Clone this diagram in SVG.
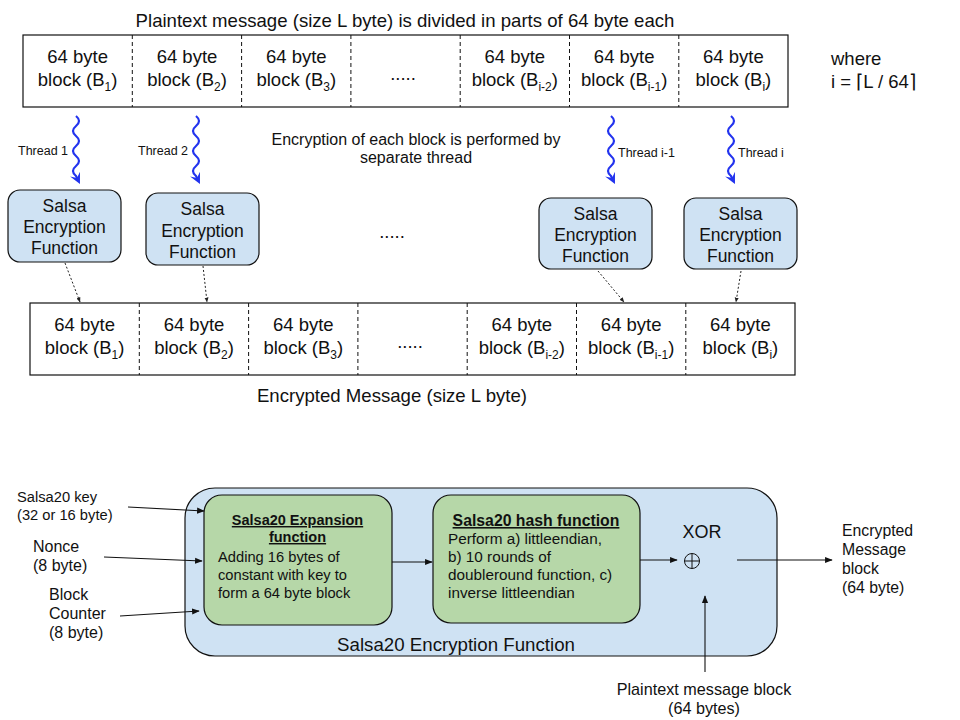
<svg xmlns="http://www.w3.org/2000/svg" width="960" height="720" viewBox="0 0 960 720">
<defs>
<style>
text{font-family:"Liberation Sans",Arial,sans-serif;fill:#111}
.c{text-anchor:middle}
.blk{font-size:18.5px}
.tbox{fill:#fff;stroke:#111;stroke-width:1.2}
.div{stroke:#111;stroke-width:1;stroke-dasharray:4,3}
.salsa{fill:#cfe2f3;stroke:#111;stroke-width:1.2}
.green{fill:#b6d7a8;stroke:#111;stroke-width:1.2}
.thr{fill:none;stroke:#2233ee;stroke-width:2.2}
.dot{fill:none;stroke:#222;stroke-width:1;stroke-dasharray:2,2}
.ln{fill:none;stroke:#111;stroke-width:1.1}
.sf{font-size:17.5px}
</style>
<marker id="ah" viewBox="0 0 10 10" refX="9" refY="5" markerWidth="7" markerHeight="7" orient="auto"><path d="M0,1 L10,5 L0,9 Z" fill="#111"/></marker>
<marker id="ahs" viewBox="0 0 10 10" refX="9" refY="5" markerWidth="5" markerHeight="5" orient="auto"><path d="M0,1 L10,5 L0,9 Z" fill="#222"/></marker>
<marker id="ahb" viewBox="0 0 10 10" refX="6" refY="5" markerWidth="5" markerHeight="6" orient="auto"><path d="M0,0 L10,5 L0,10 L4,5 Z" fill="#2233ee"/></marker>
</defs>
<rect width="960" height="720" fill="#fff"/>

<text x="405" y="27" class="c" font-size="18.6">Plaintext message (size L byte) is divided in parts of 64 byte each</text>

<g id="plain-row">
<rect class="tbox" x="23" y="35" width="765" height="72"/>
<line class="div" x1="132.3" y1="35" x2="132.3" y2="107"/>
<line class="div" x1="241.6" y1="35" x2="241.6" y2="107"/>
<line class="div" x1="350.9" y1="35" x2="350.9" y2="107"/>
<line class="div" x1="460.2" y1="35" x2="460.2" y2="107"/>
<line class="div" x1="569.5" y1="35" x2="569.5" y2="107"/>
<line class="div" x1="678.8" y1="35" x2="678.8" y2="107"/>
<g class="blk">
<text x="77.6" y="63" class="c">64 byte</text><text x="77.6" y="86" class="c">block (B<tspan dy="5" font-size="12">1</tspan><tspan dy="-5">)</tspan></text>
<text x="187" y="63" class="c">64 byte</text><text x="187" y="86" class="c">block (B<tspan dy="5" font-size="12">2</tspan><tspan dy="-5">)</tspan></text>
<text x="296.3" y="63" class="c">64 byte</text><text x="296.3" y="86" class="c">block (B<tspan dy="5" font-size="12">3</tspan><tspan dy="-5">)</tspan></text>
<text x="403" y="80" class="c">.....</text>
<text x="514.8" y="63" class="c">64 byte</text><text x="514.8" y="86" class="c">block (B<tspan dy="5" font-size="12">i-2</tspan><tspan dy="-5">)</tspan></text>
<text x="624.2" y="63" class="c">64 byte</text><text x="624.2" y="86" class="c">block (B<tspan dy="5" font-size="12">i-1</tspan><tspan dy="-5">)</tspan></text>
<text x="733.4" y="63" class="c">64 byte</text><text x="733.4" y="86" class="c">block (B<tspan dy="5" font-size="12">i</tspan><tspan dy="-5">)</tspan></text>
</g>
</g>

<g id="where">
<text x="831" y="65" font-size="18.5">where</text>
<text x="831" y="88" font-size="18.5">i = ⌈L / 64⌉</text>
</g>

<text x="416" y="145" class="c" font-size="16">Encryption of each block is performed by</text>
<text x="416" y="163" class="c" font-size="16">separate thread</text>

<g id="threads">
<path class="thr" marker-end="url(#ahb)" d="M76,116 q6,5 0,10 q-6,5 0,10 q6,5 0,10 q-6,5 0,10 q6,5 0,10 q-6,5 0,10 l2,4"/>
<text x="18" y="155" font-size="12.5">Thread 1</text>
<path class="thr" marker-end="url(#ahb)" d="M196,116 q6,5 0,10 q-6,5 0,10 q6,5 0,10 q-6,5 0,10 q6,5 0,10 q-6,5 0,10 l2,4"/>
<text x="138" y="155" font-size="12.5">Thread 2</text>
<path class="thr" marker-end="url(#ahb)" d="M611,116 q6,5 0,10 q-6,5 0,10 q6,5 0,10 q-6,5 0,10 q6,5 0,10 q-6,5 0,10 l2,4"/>
<text x="618" y="157" font-size="12.5">Thread i-1</text>
<path class="thr" marker-end="url(#ahb)" d="M731,116 q6,5 0,10 q-6,5 0,10 q6,5 0,10 q-6,5 0,10 q6,5 0,10 q-6,5 0,10 l2,4"/>
<text x="738" y="157" font-size="12.5">Thread i</text>
</g>

<g id="salsa1"><rect class="salsa" x="8" y="190" width="113" height="72" rx="12"/>
<text x="64.5" y="212" class="c sf">Salsa</text><text x="64.5" y="233" class="c sf">Encryption</text><text x="64.5" y="254" class="c sf">Function</text></g>
<g id="salsa2"><rect class="salsa" x="146" y="193" width="113" height="72" rx="12"/>
<text x="202.5" y="215" class="c sf">Salsa</text><text x="202.5" y="237" class="c sf">Encryption</text><text x="202.5" y="258" class="c sf">Function</text></g>
<g id="salsa3"><rect class="salsa" x="539" y="198" width="113" height="71" rx="12"/>
<text x="595.5" y="220" class="c sf">Salsa</text><text x="595.5" y="241" class="c sf">Encryption</text><text x="595.5" y="262" class="c sf">Function</text></g>
<g id="salsa4"><rect class="salsa" x="684" y="198" width="113" height="71" rx="12"/>
<text x="740.5" y="220" class="c sf">Salsa</text><text x="740.5" y="241" class="c sf">Encryption</text><text x="740.5" y="262" class="c sf">Function</text></g>
<text x="392" y="238" class="c" font-size="18.5">.....</text>

<g id="dotted">
<line class="dot" marker-end="url(#ahs)" x1="65" y1="263" x2="80" y2="302"/>
<line class="dot" marker-end="url(#ahs)" x1="203" y1="266" x2="207" y2="302"/>
<line class="dot" marker-end="url(#ahs)" x1="598" y1="271" x2="624" y2="302"/>
<line class="dot" marker-end="url(#ahs)" x1="741" y1="271" x2="736" y2="302"/>
</g>

<g id="enc-row">
<rect class="tbox" x="30" y="303" width="765" height="72"/>
<line class="div" x1="139.3" y1="303" x2="139.3" y2="375"/>
<line class="div" x1="248.6" y1="303" x2="248.6" y2="375"/>
<line class="div" x1="357.9" y1="303" x2="357.9" y2="375"/>
<line class="div" x1="467.2" y1="303" x2="467.2" y2="375"/>
<line class="div" x1="576.5" y1="303" x2="576.5" y2="375"/>
<line class="div" x1="685.8" y1="303" x2="685.8" y2="375"/>
<g class="blk">
<text x="84.6" y="331" class="c">64 byte</text><text x="84.6" y="354" class="c">block (B<tspan dy="5" font-size="12">1</tspan><tspan dy="-5">)</tspan></text>
<text x="194" y="331" class="c">64 byte</text><text x="194" y="354" class="c">block (B<tspan dy="5" font-size="12">2</tspan><tspan dy="-5">)</tspan></text>
<text x="303.3" y="331" class="c">64 byte</text><text x="303.3" y="354" class="c">block (B<tspan dy="5" font-size="12">3</tspan><tspan dy="-5">)</tspan></text>
<text x="410" y="348" class="c">.....</text>
<text x="521.8" y="331" class="c">64 byte</text><text x="521.8" y="354" class="c">block (B<tspan dy="5" font-size="12">i-2</tspan><tspan dy="-5">)</tspan></text>
<text x="631.2" y="331" class="c">64 byte</text><text x="631.2" y="354" class="c">block (B<tspan dy="5" font-size="12">i-1</tspan><tspan dy="-5">)</tspan></text>
<text x="740.4" y="331" class="c">64 byte</text><text x="740.4" y="354" class="c">block (B<tspan dy="5" font-size="12">i</tspan><tspan dy="-5">)</tspan></text>
</g>
</g>
<text x="392" y="402" class="c" font-size="18.6">Encrypted Message (size L byte)</text>

<g id="salsa20-func">
<rect class="salsa" x="185" y="488" width="592" height="168" rx="30"/>
<text x="456" y="651" class="c" font-size="18.7">Salsa20 Encryption Function</text>
</g>
<g id="expansion">
<rect class="green" x="204" y="495" width="188" height="130" rx="18"/>
<text x="297.5" y="525" class="c" font-size="14.5" font-weight="bold" text-decoration="underline">Salsa20 Expansion</text>
<text x="297.5" y="542" class="c" font-size="14.5" font-weight="bold" text-decoration="underline">function</text>
<text x="218" y="562" font-size="14.7">Adding 16 bytes of</text>
<text x="218" y="580" font-size="14.7">constant with key to</text>
<text x="218" y="598" font-size="14.7">form a 64 byte block</text>
</g>
<g id="hash">
<rect class="green" x="433" y="495" width="207" height="128" rx="18"/>
<text x="536" y="526" class="c" font-size="15.8" font-weight="bold" text-decoration="underline">Salsa20 hash function</text>
<text x="448" y="544" font-size="15.3">Perform a) littleendian,</text>
<text x="448" y="562" font-size="15.3">b) 10 rounds of</text>
<text x="448" y="580" font-size="15.3">doubleround function, c)</text>
<text x="448" y="598" font-size="15.3">inverse littleendian</text>
</g>
<g id="xor">
<text x="702" y="538" class="c" font-size="18">XOR</text>
<circle cx="692" cy="561" r="7.5" fill="none" stroke="#111" stroke-width="1"/>
<line x1="684.5" y1="561" x2="699.5" y2="561" stroke="#111" stroke-width="1"/>
<line x1="692" y1="553.5" x2="692" y2="568.5" stroke="#111" stroke-width="1"/>
</g>
<g id="inputs">
<text x="17" y="502" font-size="14.7">Salsa20 key</text>
<text x="17" y="520" font-size="14.7">(32 or 16 byte)</text>
<text x="33" y="552" font-size="16">Nonce</text>
<text x="33" y="571" font-size="16">(8 byte)</text>
<text x="49" y="600" font-size="16">Block</text>
<text x="49" y="619" font-size="16">Counter</text>
<text x="49" y="638" font-size="16">(8 byte)</text>
</g>
<g id="output">
<text x="842" y="536" font-size="15.8">Encrypted</text>
<text x="842" y="555" font-size="15.8">Message</text>
<text x="842" y="574" font-size="15.8">block</text>
<text x="842" y="593" font-size="15.8">(64 byte)</text>
<text x="704" y="695" class="c" font-size="16.2">Plaintext message block</text>
<text x="704" y="714" class="c" font-size="16.2">(64 bytes)</text>
</g>

<g id="connectors">
<line class="ln" marker-end="url(#ah)" x1="128" y1="507" x2="204" y2="511"/>
<line class="ln" marker-end="url(#ah)" x1="104" y1="557" x2="202" y2="561"/>
<line class="ln" marker-end="url(#ah)" x1="120" y1="616" x2="199" y2="611"/>
<line class="ln" marker-end="url(#ah)" x1="392" y1="562" x2="432" y2="562"/>
<line class="ln" marker-end="url(#ah)" x1="640" y1="560" x2="677" y2="560"/>
<line class="ln" marker-end="url(#ah)" x1="737" y1="560" x2="832" y2="560"/>
<line class="ln" marker-end="url(#ah)" x1="705" y1="672" x2="705" y2="596"/>
</g>
</svg>
